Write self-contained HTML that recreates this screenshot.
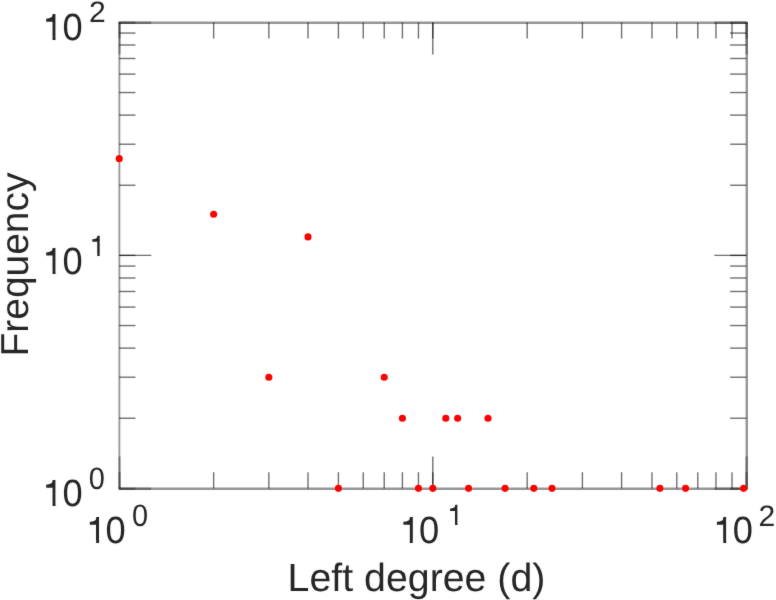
<!DOCTYPE html>
<html><head><meta charset="utf-8"><title>Degree distribution</title>
<style>
html,body{margin:0;padding:0;background:#fff;}
body{width:776px;height:600px;overflow:hidden;}
svg{display:block;}
text{font-family:"Liberation Sans",sans-serif;fill:#282828;text-rendering:geometricPrecision;}
</style></head>
<body>
<svg width="776" height="600" viewBox="0 0 776 600">
<defs><filter id="soft" x="0" y="0" width="776" height="600" filterUnits="userSpaceOnUse"><feConvolveMatrix order="3" kernelMatrix="0.00640 0.06720 0.00640 0.06720 0.70560 0.06720 0.00640 0.06720 0.00640" edgeMode="duplicate" preserveAlpha="false"/></filter><clipPath id="c1"><path d="M10.20,-27.46H12.87V-3.26H12.62V2H9.42V-3.26H9.00V-23.46Z"/></clipPath><clipPath id="c1s"><path d="M8.32,-22.30H10.33V-2.70H10.08V2H7.54V-2.70H7.12V-18.30Z"/></clipPath></defs>
<rect width="776" height="600" fill="#fff"/>
<g filter="url(#soft)">
<g stroke="#000" stroke-opacity="0.41" stroke-width="2.4" stroke-linecap="butt">
<line x1="118.46" y1="22.75" x2="748.00" y2="22.75"/><line x1="118.46" y1="488.75" x2="748.00" y2="488.75"/><line x1="119.38" y1="22.75" x2="119.38" y2="488.75" stroke-width="1.85"/><line x1="746.8" y1="22.75" x2="746.8" y2="488.75"/>
</g>
<g stroke="#000" stroke-opacity="0.29" stroke-width="2.4" stroke-linecap="butt">
<line x1="119.58" y1="488.40" x2="119.58" y2="456.40" stroke-width="2.2"/>
<line x1="119.58" y1="22.40" x2="119.58" y2="54.40" stroke-width="2.2"/>
<line x1="746.55" y1="488.40" x2="746.55" y2="456.40"/>
<line x1="746.55" y1="22.40" x2="746.55" y2="54.40"/>
<line x1="119.25" y1="22.75" x2="151.25" y2="22.75"/>
<line x1="746.35" y1="22.75" x2="714.35" y2="22.75"/>
<line x1="119.25" y1="488.75" x2="151.25" y2="488.75"/>
<line x1="746.35" y1="488.75" x2="714.35" y2="488.75"/>
<line x1="119.58" y1="488.40" x2="119.58" y2="472.20" stroke-width="2.2"/>
<line x1="119.58" y1="22.40" x2="119.58" y2="38.60" stroke-width="2.2"/>
<line x1="746.55" y1="488.40" x2="746.55" y2="472.20"/>
<line x1="746.55" y1="22.40" x2="746.55" y2="38.60"/>
<line x1="119.25" y1="22.75" x2="135.45" y2="22.75"/>
<line x1="746.35" y1="22.75" x2="730.15" y2="22.75"/>
<line x1="119.25" y1="488.75" x2="135.45" y2="488.75"/>
<line x1="746.35" y1="488.75" x2="730.15" y2="488.75"/>
</g>
<g stroke="#000" stroke-opacity="0.56" stroke-width="1.4" stroke-linecap="butt">
<line x1="432.80" y1="488.40" x2="432.80" y2="456.40"/>
<line x1="432.80" y1="22.40" x2="432.80" y2="54.40"/>
<line x1="119.25" y1="255.40" x2="151.25" y2="255.40"/>
<line x1="746.35" y1="255.40" x2="714.35" y2="255.40"/>
<line x1="213.64" y1="488.40" x2="213.64" y2="472.20"/>
<line x1="213.64" y1="22.40" x2="213.64" y2="38.60"/>
<line x1="119.25" y1="418.26" x2="135.45" y2="418.26"/>
<line x1="746.35" y1="418.26" x2="730.15" y2="418.26"/>
<line x1="268.85" y1="488.40" x2="268.85" y2="472.20"/>
<line x1="268.85" y1="22.40" x2="268.85" y2="38.60"/>
<line x1="119.25" y1="377.23" x2="135.45" y2="377.23"/>
<line x1="746.35" y1="377.23" x2="730.15" y2="377.23"/>
<line x1="308.03" y1="488.40" x2="308.03" y2="472.20"/>
<line x1="308.03" y1="22.40" x2="308.03" y2="38.60"/>
<line x1="119.25" y1="348.12" x2="135.45" y2="348.12"/>
<line x1="746.35" y1="348.12" x2="730.15" y2="348.12"/>
<line x1="338.41" y1="488.40" x2="338.41" y2="472.20"/>
<line x1="338.41" y1="22.40" x2="338.41" y2="38.60"/>
<line x1="119.25" y1="325.54" x2="135.45" y2="325.54"/>
<line x1="746.35" y1="325.54" x2="730.15" y2="325.54"/>
<line x1="363.24" y1="488.40" x2="363.24" y2="472.20"/>
<line x1="363.24" y1="22.40" x2="363.24" y2="38.60"/>
<line x1="119.25" y1="307.09" x2="135.45" y2="307.09"/>
<line x1="746.35" y1="307.09" x2="730.15" y2="307.09"/>
<line x1="384.23" y1="488.40" x2="384.23" y2="472.20"/>
<line x1="384.23" y1="22.40" x2="384.23" y2="38.60"/>
<line x1="119.25" y1="291.49" x2="135.45" y2="291.49"/>
<line x1="746.35" y1="291.49" x2="730.15" y2="291.49"/>
<line x1="402.41" y1="488.40" x2="402.41" y2="472.20"/>
<line x1="402.41" y1="22.40" x2="402.41" y2="38.60"/>
<line x1="119.25" y1="277.98" x2="135.45" y2="277.98"/>
<line x1="746.35" y1="277.98" x2="730.15" y2="277.98"/>
<line x1="418.45" y1="488.40" x2="418.45" y2="472.20"/>
<line x1="418.45" y1="22.40" x2="418.45" y2="38.60"/>
<line x1="119.25" y1="266.06" x2="135.45" y2="266.06"/>
<line x1="746.35" y1="266.06" x2="730.15" y2="266.06"/>
<line x1="432.80" y1="488.40" x2="432.80" y2="472.20"/>
<line x1="432.80" y1="22.40" x2="432.80" y2="38.60"/>
<line x1="119.25" y1="255.40" x2="135.45" y2="255.40"/>
<line x1="746.35" y1="255.40" x2="730.15" y2="255.40"/>
<line x1="527.19" y1="488.40" x2="527.19" y2="472.20"/>
<line x1="527.19" y1="22.40" x2="527.19" y2="38.60"/>
<line x1="119.25" y1="185.26" x2="135.45" y2="185.26"/>
<line x1="746.35" y1="185.26" x2="730.15" y2="185.26"/>
<line x1="582.40" y1="488.40" x2="582.40" y2="472.20"/>
<line x1="582.40" y1="22.40" x2="582.40" y2="38.60"/>
<line x1="119.25" y1="144.23" x2="135.45" y2="144.23"/>
<line x1="746.35" y1="144.23" x2="730.15" y2="144.23"/>
<line x1="621.58" y1="488.40" x2="621.58" y2="472.20"/>
<line x1="621.58" y1="22.40" x2="621.58" y2="38.60"/>
<line x1="119.25" y1="115.12" x2="135.45" y2="115.12"/>
<line x1="746.35" y1="115.12" x2="730.15" y2="115.12"/>
<line x1="651.96" y1="488.40" x2="651.96" y2="472.20"/>
<line x1="651.96" y1="22.40" x2="651.96" y2="38.60"/>
<line x1="119.25" y1="92.54" x2="135.45" y2="92.54"/>
<line x1="746.35" y1="92.54" x2="730.15" y2="92.54"/>
<line x1="676.79" y1="488.40" x2="676.79" y2="472.20"/>
<line x1="676.79" y1="22.40" x2="676.79" y2="38.60"/>
<line x1="119.25" y1="74.09" x2="135.45" y2="74.09"/>
<line x1="746.35" y1="74.09" x2="730.15" y2="74.09"/>
<line x1="697.78" y1="488.40" x2="697.78" y2="472.20"/>
<line x1="697.78" y1="22.40" x2="697.78" y2="38.60"/>
<line x1="119.25" y1="58.49" x2="135.45" y2="58.49"/>
<line x1="746.35" y1="58.49" x2="730.15" y2="58.49"/>
<line x1="715.96" y1="488.40" x2="715.96" y2="472.20"/>
<line x1="715.96" y1="22.40" x2="715.96" y2="38.60"/>
<line x1="119.25" y1="44.98" x2="135.45" y2="44.98"/>
<line x1="746.35" y1="44.98" x2="730.15" y2="44.98"/>
<line x1="732.00" y1="488.40" x2="732.00" y2="472.20"/>
<line x1="732.00" y1="22.40" x2="732.00" y2="38.60"/>
<line x1="119.25" y1="33.06" x2="135.45" y2="33.06"/>
<line x1="746.35" y1="33.06" x2="730.15" y2="33.06"/>
</g>
<g fill="#ff0000"><circle cx="119.25" cy="158.66" r="3.55"/><circle cx="213.64" cy="214.32" r="3.55"/><circle cx="268.85" cy="377.18" r="3.55"/><circle cx="308.03" cy="236.90" r="3.55"/><circle cx="338.41" cy="488.35" r="3.55"/><circle cx="384.23" cy="377.18" r="3.55"/><circle cx="402.41" cy="418.21" r="3.55"/><circle cx="418.45" cy="488.35" r="3.55"/><circle cx="432.80" cy="488.35" r="3.55"/><circle cx="445.78" cy="418.21" r="3.55"/><circle cx="457.63" cy="418.21" r="3.55"/><circle cx="468.53" cy="488.35" r="3.55"/><circle cx="488.01" cy="418.21" r="3.55"/><circle cx="505.06" cy="488.35" r="3.55"/><circle cx="533.83" cy="488.35" r="3.55"/><circle cx="552.02" cy="488.35" r="3.55"/><circle cx="659.90" cy="488.35" r="3.55"/><circle cx="685.58" cy="488.35" r="3.55"/><circle cx="743.60" cy="488.35" r="3.55"/></g>
<g>
<text transform="translate(43.45,506.00) scale(0.96,1.02)" clip-path="url(#c1)" font-size="37.0">1</text>
<text transform="translate(62.38,506.20) scale(0.98,1.022)" font-size="37.0">0</text>
<text transform="translate(88.87,489.10) scale(0.98,1.05)" font-size="29.5">0</text>
<text transform="translate(43.45,273.80) scale(0.96,1.02)" clip-path="url(#c1)" font-size="37.0">1</text>
<text transform="translate(62.38,274.00) scale(0.98,1.022)" font-size="37.0">0</text>
<text transform="translate(89.94,256.00) scale(0.97,1.0)" clip-path="url(#c1s)" font-size="29.5">1</text>
<text transform="translate(43.45,40.00) scale(0.96,1.02)" clip-path="url(#c1)" font-size="37.0">1</text>
<text transform="translate(62.38,40.20) scale(0.98,1.022)" font-size="37.0">0</text>
<text transform="translate(88.94,22.20) scale(1.02,1.0)" font-size="29.5">2</text>
<text transform="translate(87.10,543.10) scale(0.96,1.02)" clip-path="url(#c1)" font-size="37.0">1</text>
<text transform="translate(105.53,543.30) scale(0.98,1.022)" font-size="37.0">0</text>
<text transform="translate(131.97,526.10) scale(0.98,1.05)" font-size="29.5">0</text>
<text transform="translate(400.65,543.10) scale(0.96,1.02)" clip-path="url(#c1)" font-size="37.0">1</text>
<text transform="translate(419.08,543.30) scale(0.98,1.022)" font-size="37.0">0</text>
<text transform="translate(447.74,525.30) scale(0.97,1.0)" clip-path="url(#c1s)" font-size="29.5">1</text>
<text transform="translate(714.20,543.10) scale(0.96,1.02)" clip-path="url(#c1)" font-size="37.0">1</text>
<text transform="translate(732.63,543.30) scale(0.98,1.022)" font-size="37.0">0</text>
<text transform="translate(758.49,525.50) scale(1.02,1.0)" font-size="29.5">2</text>
<text transform="translate(287.6,590.9) scale(1,1.0)" font-size="39.3">Left degree (d)</text>
<text transform="translate(28.2,356.5) rotate(-90) scale(1,1.0)" font-size="38.95">Frequency</text>
</g>
<g fill="#282828"><path d="M53.95,480.04Q52.54,484.35 46.20,484.66V487.77H54.26V480.04Z"/><path d="M53.95,247.84Q52.54,252.15 46.20,252.46V255.57H54.26V247.84Z"/><path d="M98.40,235.70Q97.26,239.07 92.31,239.32V241.75H98.65V235.70Z"/><path d="M53.95,14.04Q52.54,18.35 46.20,18.66V21.77H54.26V14.04Z"/><path d="M97.60,517.14Q96.19,521.45 89.85,521.76V524.87H97.91V517.14Z"/><path d="M411.15,517.14Q409.74,521.45 403.40,521.76V524.87H411.46V517.14Z"/><path d="M456.20,505.00Q455.06,508.37 450.11,508.62V511.05H456.45V505.00Z"/><path d="M724.70,517.14Q723.29,521.45 716.95,521.76V524.87H725.01V517.14Z"/></g>
</g>
</svg>
</body></html>
